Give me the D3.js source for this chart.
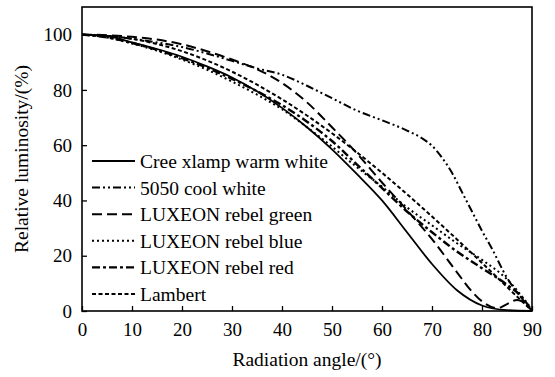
<!DOCTYPE html>
<html>
<head>
<meta charset="utf-8">
<script src="https://cdn.jsdelivr.net/npm/d3@7"></script>
<style>
  body { margin: 0; background: #fff; }
  svg text { font-family: "Liberation Serif", "Times New Roman", serif; }
  .line { fill: none; stroke: #000; }
</style>
</head>
<body>
<svg id="chart" width="555" height="377"></svg>
<script>
// angle (deg) / relative luminosity (%)
const creeWarm = [[0,100],[5,99.5],[10,97.2],[15,94.8],[20,92],[25,88.5],[30,84.5],[35,79.5],[40,73.5],[45,66.5],[50,58.5],[55,49.5],[60,40],[65,28.5],[70,17],[75,7.5],[80,2],[85,0.3],[90,0]];
const cool5050 = [[0,100],[5,99.5],[10,98.5],[15,97.2],[20,95.5],[25,93.2],[30,90.5],[35,87.8],[40,85.5],[45,81.5],[50,77],[55,72.5],[60,69],[65,65.3],[68,62.5],[70,59.8],[72,55.5],[74,50],[76,43],[78,36],[80,29],[82,22.5],[85,12],[88,4.5],[90,0]];
const rebelGreen = [[0,100],[5,99.8],[10,99.2],[15,98.2],[20,96.5],[25,94],[30,91],[35,87.5],[40,82.5],[45,75.5],[50,66.5],[55,57],[60,46.5],[65,36.5],[70,26],[75,14],[78,7],[80,3.5],[83,1],[85,2.5],[87,4],[88.5,3],[90,0]];
const rebelBlue = [[0,100],[5,99],[10,96.8],[15,94.2],[20,91],[25,87.3],[30,83],[35,78.3],[40,73],[45,66.5],[50,59.5],[55,52],[60,45],[65,37.5],[70,31],[75,24.5],[80,18.5],[85,11.5],[90,0.5]];
const rebelRed = [[0,100],[5,99],[10,97],[15,94.5],[20,91.5],[25,88],[30,84],[35,79.5],[40,74.5],[45,68.5],[50,61.5],[55,53],[60,44.5],[65,36],[70,28.5],[75,21.5],[80,15.5],[85,9.5],[88,5],[90,0]];
const lambert = [[0,100],[10,98.5],[20,94],[30,86.6],[40,76.6],[50,64.3],[60,50],[70,34.2],[75,25.9],[80,17.4],[85,8.7],[90,0]];

const seriesNames = ['Cree xlamp warm white', '5050 cool white', 'LUXEON rebel green',
                     'LUXEON rebel blue', 'LUXEON rebel red', 'Lambert'];
const seriesData = [creeWarm, cool5050, rebelGreen, rebelBlue, rebelRed, lambert];
const dashes = ['none', '8,3,2,3,2,3', '10,5', '2,3', '8,3,3,3', '4,2.5'];
const widths = [1.8, 2, 2, 2, 2.4, 2];

const xTicks = [0, 10, 20, 30, 40, 50, 60, 70, 80, 90];
const yTicks = [0, 20, 40, 60, 80, 100];

const svg = d3.select('#chart');
const margin = {left: 82, right: 23, top: 7, bottom: 66};
const w = 555 - margin.left - margin.right,
      h = 377 - margin.top - margin.bottom;

const chart = svg.append('g')
    .attr('transform', `translate(${margin.left}, ${margin.top})`);

const x = d3.scaleLinear().domain([0, 90]).range([0, w]);
const y = d3.scaleLinear().domain([0, 110]).range([h, 0]);

// axes, ticks pointing inward
const xAxis = d3.axisBottom(x).tickValues(xTicks).tickSizeInner(-5).tickSizeOuter(0).tickPadding(12);
const yAxis = d3.axisLeft(y).tickValues(yTicks).tickSizeInner(-5).tickSizeOuter(0).tickPadding(10);

const gx = chart.append('g').attr('transform', `translate(0, ${h})`).call(xAxis);
const gy = chart.append('g').call(yAxis);
for (let g of [gx, gy]) {
    g.attr('font-family', null).attr('font-size', 19);
    g.select('.domain').remove();
    g.selectAll('line').attr('stroke', '#000').attr('stroke-width', 1.3);
    g.selectAll('text').attr('fill', '#000');
}

// frame
chart.append('rect')
    .attr('width', w).attr('height', h)
    .attr('fill', 'none').attr('stroke', '#000').attr('stroke-width', 1.6);

const lineGen = d3.line()
    .curve(d3.curveMonotoneX)
    .x(d => x(d[0]))
    .y(d => y(d[1]));

seriesData.forEach((data, i) => {
    chart.append('path')
        .datum(data)
        .attr('class', 'line')
        .attr('stroke-width', widths[i])
        .attr('stroke-dasharray', dashes[i])
        .attr('d', lineGen);
});

// legend
const legend = chart.append('g').attr('transform', `translate(10, ${154})`);
seriesNames.forEach((name, i) => {
    const row = legend.append('g').attr('transform', `translate(0, ${i * 26.6})`);
    row.append('line')
        .attr('x1', 0).attr('x2', 43).attr('y1', 0).attr('y2', 0)
        .attr('stroke', '#000')
        .attr('stroke-width', widths[i])
        .attr('stroke-dasharray', dashes[i]);
    row.append('text')
        .attr('x', 48).attr('y', 7)
        .attr('font-size', 19.5)
        .text(name);
});

// axis titles
svg.append('text')
    .attr('x', margin.left + w / 2).attr('y', 366)
    .attr('text-anchor', 'middle')
    .attr('font-size', 19.5)
    .text('Radiation angle/(°)');
svg.append('text')
    .attr('transform', `translate(28, ${margin.top + h / 2}) rotate(-90)`)
    .attr('text-anchor', 'middle')
    .attr('font-size', 19.5)
    .text('Relative luminosity/(%)');
</script>
</body>
</html>
